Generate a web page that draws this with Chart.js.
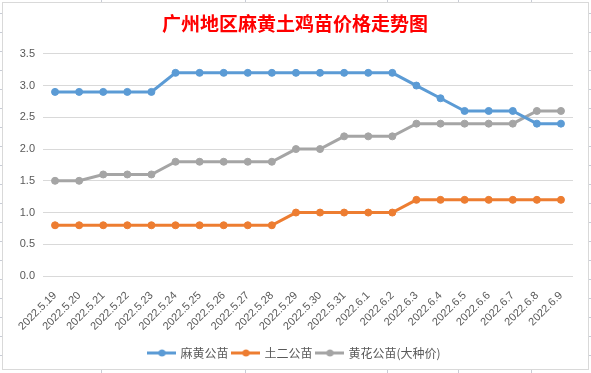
<!DOCTYPE html>
<html lang="zh">
<head>
<meta charset="UTF-8">
<title>广州地区麻黄土鸡苗价格走势图</title>
<script src="https://cdn.jsdelivr.net/npm/chart.js"></script>
<style>
  html, body { margin: 0; padding: 0; background: #fff; }
  #wrap { width: 591px; height: 373px; }
</style>
</head>
<body>
<div id="wrap"><canvas id="priceChart"></canvas></div>
<script>
// 日期
const dates = ['2022.5.19', '2022.5.20', '2022.5.21', '2022.5.22', '2022.5.23', '2022.5.24',
  '2022.5.25', '2022.5.26', '2022.5.27', '2022.5.28', '2022.5.29', '2022.5.30', '2022.5.31',
  '2022.6.1', '2022.6.2', '2022.6.3', '2022.6.4', '2022.6.5', '2022.6.6', '2022.6.7',
  '2022.6.8', '2022.6.9'];

// 价格（元/只）
const mahuang = [2.9, 2.9, 2.9, 2.9, 2.9, 3.2, 3.2, 3.2, 3.2, 3.2, 3.2, 3.2, 3.2, 3.2, 3.2,
  3.0, 2.8, 2.6, 2.6, 2.6, 2.4, 2.4];
const tuer = [0.8, 0.8, 0.8, 0.8, 0.8, 0.8, 0.8, 0.8, 0.8, 0.8, 1.0, 1.0, 1.0, 1.0, 1.0,
  1.2, 1.2, 1.2, 1.2, 1.2, 1.2, 1.2];
const huanghua = [1.5, 1.5, 1.6, 1.6, 1.6, 1.8, 1.8, 1.8, 1.8, 1.8, 2.0, 2.0, 2.2, 2.2, 2.2,
  2.4, 2.4, 2.4, 2.4, 2.4, 2.6, 2.6];

const seriesNames = ['麻黄公苗', '土二公苗', '黄花公苗(大种价)'];
const seriesColors = ['#5B9BD5', '#ED7D31', '#A5A5A5'];

const yMin = 0;
const yMax = 3.5;
const yStep = 0.5;

// 图例里的线+圆点
function legendMark(color) {
  const c = document.createElement('canvas');
  c.width = 29; c.height = 10;
  const g = c.getContext('2d');
  g.strokeStyle = color;
  g.lineWidth = 3;
  g.beginPath(); g.moveTo(0, 5); g.lineTo(29, 5); g.stroke();
  g.fillStyle = color;
  g.beginPath(); g.arc(14.5, 5, 3.5, 0, Math.PI * 2); g.fill();
  return c;
}

// 表格背景 + 图表边框
const sheetBg = {
  id: 'sheetBg',
  beforeDraw(chart) {
    const ctx = chart.ctx;
    const w = chart.width, h = chart.height;
    ctx.save();
    ctx.fillStyle = '#fff';
    ctx.fillRect(0, 0, w, h);
    ctx.strokeStyle = '#C8CCD6';
    ctx.lineWidth = 1;
    ctx.beginPath();
    for (let y = 13; y < h; y += 19) {
      ctx.moveTo(0, y + 0.5); ctx.lineTo(w, y + 0.5);
    }
    [101, 245, 387, 458, 531].forEach(x => {
      ctx.moveTo(x + 0.5, 0); ctx.lineTo(x + 0.5, h);
    });
    ctx.stroke();
    ctx.fillStyle = '#fff';
    ctx.fillRect(2, 2, 586, 367);
    ctx.strokeStyle = '#D9D9D9';
    ctx.strokeRect(2.5, 2.5, 586, 367);
    ctx.restore();
  }
};

const datasets = [mahuang, tuer, huanghua].map((vals, i) => ({
  label: seriesNames[i],
  data: vals,
  yAxisID: 'y',
  borderColor: seriesColors[i],
  backgroundColor: seriesColors[i],
  borderWidth: 3,
  pointRadius: 3.5,
  pointBorderWidth: 1,
  pointHoverRadius: 4,
  tension: 0,
  pointStyle: 'circle',
  legendIcon: legendMark(seriesColors[i])
}));

new Chart(document.getElementById('priceChart'), {
  type: 'line',
  data: { labels: dates, datasets: datasets },
  options: {
    responsive: true,
    maintainAspectRatio: false,
    animation: false,
    layout: { padding: { left: 3, right: 4, top: 0, bottom: 4 } },
    plugins: {
      title: {
        display: true,
        text: '广州地区麻黄土鸡苗价格走势图',
        color: '#FF0000',
        font: { family: 'Noto Sans CJK SC', size: 19, weight: 'bold' },
        padding: { top: 12, bottom: 19 }
      },
      legend: {
        position: 'bottom',
        labels: {
          usePointStyle: true,
          pointStyleWidth: 25,
          boxHeight: 10,
          padding: 5,
          color: '#595959',
          font: { family: 'Noto Sans CJK SC', size: 12 },
          generateLabels(chart) {
            return chart.data.datasets.map((d, i) => ({
              text: d.label,
              fillStyle: d.borderColor,
              strokeStyle: d.borderColor,
              fontColor: '#595959',
              pointStyle: d.legendIcon,
              lineWidth: 0,
              hidden: !chart.isDatasetVisible(i),
              datasetIndex: i
            }));
          }
        }
      },
      tooltip: { enabled: false }
    },
    scales: {
      x: {
        offset: true,
        grid: { display: false },
        border: { display: false },
        ticks: {
          autoSkip: false,
          maxRotation: 45,
          minRotation: 45,
          padding: 5,
          color: '#595959',
          font: { family: 'Liberation Sans', size: 11 }
        },
        afterFit(scale) { scale.height += 4; }
      },
      y: {
        min: yMin,
        max: yMax,
        grid: { color: '#D9D9D9', drawTicks: false },
        border: { display: false },
        ticks: {
          stepSize: yStep,
          padding: 8,
          color: '#595959',
          font: { family: 'Liberation Sans', size: 11 },
          callback: v => v.toFixed(1)
        },
        afterFit(scale) { scale.width = 40; }
      },
      // 右侧留白（不显示内容）
      yRight: {
        position: 'right',
        grid: { display: false },
        border: { display: false },
        ticks: { display: false },
        afterFit(scale) { scale.width = 14; }
      }
    }
  },
  plugins: [sheetBg]
});
</script>
</body>
</html>
